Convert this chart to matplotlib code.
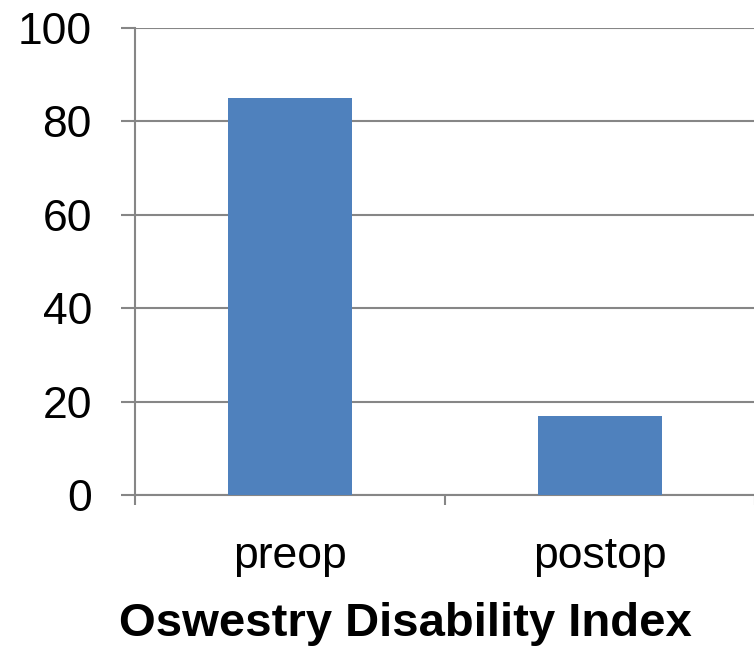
import matplotlib
matplotlib.use("Agg")
import matplotlib.pyplot as plt
import numpy as np

categories = ["preop", "postop"]
values = [85, 17]
y_ticks = [0, 20, 40, 60, 80, 100]
x_label = "Oswestry Disability Index"

plt.rcParams['font.family'] = ['Liberation Sans', 'DejaVu Sans']

fig = plt.figure(figsize=(7.54, 6.47), dpi=100)
ax = fig.add_axes([135/754, 152/647, 620/754, 467/647])

grid_color = "#868686"
x = np.arange(len(categories))
ax.bar(x, values, width=0.4, color="#4F81BD", zorder=3)

ax.set_xlim(-0.5, len(categories) - 0.5)
ax.set_ylim(0, 100)
ax.set_yticks(y_ticks)
ax.set_yticklabels([str(v) for v in y_ticks], fontsize=32)
ax.yaxis.grid(True, color=grid_color, linewidth=1.5, zorder=0)
ax.set_axisbelow(True)

ax.set_xticks(x)
ax.set_xticklabels(categories, fontsize=32)
ax.set_xticks(np.arange(-0.5, len(categories), 1.0), minor=True)
ax.tick_params(axis='x', which='major', length=0, pad=29.5)
ax.tick_params(axis='x', which='minor', length=7, width=1.5, color=grid_color, direction='out')
ax.tick_params(axis='y', which='major', length=10, width=1.5, color=grid_color, pad=21)

for s in ['top', 'right']:
    ax.spines[s].set_visible(False)
for s in ['left', 'bottom']:
    ax.spines[s].set_color(grid_color)
    ax.spines[s].set_linewidth(1.5)

ax.set_xlabel(x_label, fontsize=34, fontweight='bold', va='baseline')
ax.xaxis.set_label_coords((405 - 135) / 620, (495 - 636) / 467)

fig.savefig("out.png", dpi=100)
